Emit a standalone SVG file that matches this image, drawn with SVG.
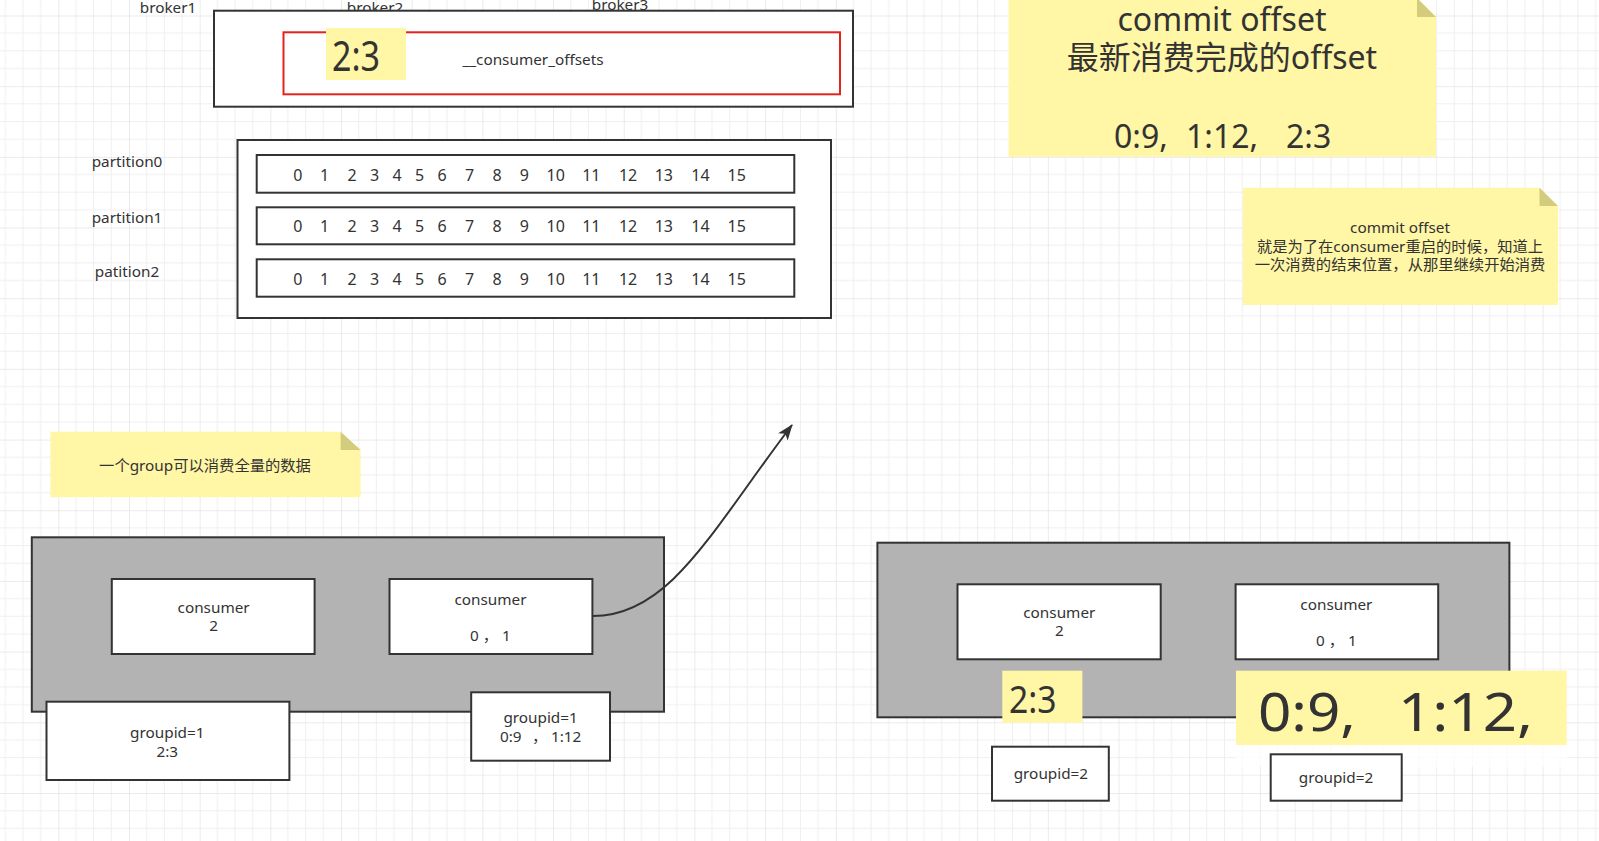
<svg xmlns="http://www.w3.org/2000/svg" width="1599" height="841" viewBox="0 0 1599 841">
<style>
.t{font-family:"Noto Sans","Noto Sans CJK SC",sans-serif;fill:#333;font-size:15.3px}
.c{text-anchor:middle}
.box{fill:#fff;stroke:#333;stroke-width:2}
.grp{fill:#b3b3b3;stroke:#333;stroke-width:2}
.note{fill:#fff6a6}
.fold{fill:#d3cc7c}
.hl{fill:#fff6a6}
.num{font-size:16px;text-anchor:middle}
.big{font-size:32px}
</style>
<defs>
<pattern id="grid" patternUnits="userSpaceOnUse" x="58.3" y="15.5" width="70.68" height="70.68">
<rect x="17.17" y="0" width="1" height="70.68" fill="#efefef"/>
<rect x="34.84" y="0" width="1" height="70.68" fill="#efefef"/>
<rect x="52.51" y="0" width="1" height="70.68" fill="#efefef"/>
<rect x="0" y="17.17" width="70.68" height="1" fill="#efefef"/>
<rect x="0" y="34.84" width="70.68" height="1" fill="#efefef"/>
<rect x="0" y="52.51" width="70.68" height="1" fill="#efefef"/>
<rect x="-0.5" y="0" width="1.2" height="70.68" fill="#e2e2e2"/>
<rect x="0" y="-0.5" width="70.68" height="1.2" fill="#e2e2e2"/>
</pattern>
<marker id="arr" markerUnits="userSpaceOnUse" markerWidth="16" markerHeight="12" viewBox="0 0 16 12" refX="15" refY="6" orient="auto">
<path d="M0,0 L16,6 L0,12 L4,6 z" fill="#333"/>
</marker>
</defs>
<rect width="1599" height="841" fill="#fff"/>
<rect width="1599" height="841" fill="url(#grid)"/>

<g id="broker-labels">
<text class="t c" x="168" y="13">broker1</text>
<text class="t c" x="375" y="13">broker2</text>
<text class="t c" x="620" y="10">broker3</text>
</g>

<g id="offsets-topic">
<rect class="box" x="214" y="10.7" width="639" height="96"/>
<rect x="283.5" y="32.3" width="556.5" height="62" fill="#fff" stroke="#e3231c" stroke-width="2"/>
<rect class="hl" x="326" y="28" width="80" height="52"/>
<text class="t" x="332" y="70.7" style="font-size:42px" textLength="48" lengthAdjust="spacingAndGlyphs">2:3</text>
<text class="t c" x="533" y="65">__consumer_offsets</text>
</g>

<g id="partitions">
<text class="t c" x="127" y="167">partition0</text>
<text class="t c" x="127" y="222.7">partition1</text>
<text class="t c" x="127" y="276.7">patition2</text>
<rect class="box" x="237.5" y="140" width="593.5" height="178"/>
<rect class="box" x="256.7" y="155" width="537.6" height="37.7"/>
<rect class="box" x="256.7" y="207.3" width="537.6" height="37"/>
<rect class="box" x="256.7" y="259.3" width="537.6" height="37.4"/>
<g class="t num">
<text x="297.9" y="180.7">0</text><text x="324.7" y="180.7">1</text><text x="352.2" y="180.7">2</text><text x="374.7" y="180.7">3</text><text x="397.1" y="180.7">4</text><text x="419.6" y="180.7">5</text><text x="442.1" y="180.7">6</text><text x="469.6" y="180.7">7</text><text x="497" y="180.7">8</text><text x="524.4" y="180.7">9</text><text x="555.7" y="180.7">10</text><text x="591.3" y="180.7">11</text><text x="628.1" y="180.7">12</text><text x="663.8" y="180.7">13</text><text x="700.5" y="180.7">14</text><text x="736.7" y="180.7">15</text>
<text x="297.9" y="231.7">0</text><text x="324.7" y="231.7">1</text><text x="352.2" y="231.7">2</text><text x="374.7" y="231.7">3</text><text x="397.1" y="231.7">4</text><text x="419.6" y="231.7">5</text><text x="442.1" y="231.7">6</text><text x="469.6" y="231.7">7</text><text x="497" y="231.7">8</text><text x="524.4" y="231.7">9</text><text x="555.7" y="231.7">10</text><text x="591.3" y="231.7">11</text><text x="628.1" y="231.7">12</text><text x="663.8" y="231.7">13</text><text x="700.5" y="231.7">14</text><text x="736.7" y="231.7">15</text>
<text x="297.9" y="285">0</text><text x="324.7" y="285">1</text><text x="352.2" y="285">2</text><text x="374.7" y="285">3</text><text x="397.1" y="285">4</text><text x="419.6" y="285">5</text><text x="442.1" y="285">6</text><text x="469.6" y="285">7</text><text x="497" y="285">8</text><text x="524.4" y="285">9</text><text x="555.7" y="285">10</text><text x="591.3" y="285">11</text><text x="628.1" y="285">12</text><text x="663.8" y="285">13</text><text x="700.5" y="285">14</text><text x="736.7" y="285">15</text>
</g>
</g>

<g id="note-commit-offset">
<path class="note" d="M1008.6,-2 L1417,-2 L1436,17 L1436,156.7 L1008.6,156.7 Z"/>
<path class="fold" d="M1417,-2 L1436,17 L1417,17 Z"/>
<text class="t c big" x="1222" y="31">commit offset</text>
<text class="t c big" x="1222" y="69">最新消费完成的offset</text>
<text class="t big" x="1114" y="148.3">0:9,</text>
<text class="t big" x="1186" y="148.3">1:12,</text>
<text class="t big" x="1286" y="148.3">2:3</text>
</g>

<g id="note-explain">
<path class="note" d="M1243,187.7 L1539.5,187.7 L1558,206 L1558,305 L1243,305 Z"/>
<path class="fold" d="M1539.5,187.7 L1558,206 L1539.5,206 Z"/>
<text class="t c" x="1400" y="233.3">commit offset</text>
<text class="t c" x="1400" y="252.3">就是为了在consumer重启的时候，知道上</text>
<text class="t c" x="1400" y="270">一次消费的结束位置，从那里继续开始消费</text>
</g>

<g id="note-group">
<path class="note" d="M50.4,431.7 L340.6,431.7 L360.6,450 L360.6,497.3 L50.4,497.3 Z"/>
<path class="fold" d="M340.6,431.7 L360.6,450 L340.6,450 Z"/>
<text class="t c" x="205" y="470.7">一个group可以消费全量的数据</text>
</g>

<g id="group1">
<rect class="grp" x="31.8" y="537.3" width="632.2" height="174.4"/>
</g>
<g id="g1-consumer2">
<rect class="box" x="111.8" y="579" width="202.8" height="75"/>
<text class="t c" x="213.6" y="613.3">consumer</text>
<text class="t c" x="213.6" y="631">2</text>
</g>
<g id="g1-consumer01">
<rect class="box" x="389.5" y="579" width="202.9" height="75"/>
<text class="t c" x="490.5" y="605">consumer</text>
<text class="t c" x="490.5" y="640.7">0 ， 1</text>
</g>
<g id="g1-offset-2">
<rect class="box" x="46.5" y="701.7" width="242.9" height="78.3"/>
<text class="t c" x="167.3" y="738">groupid=1</text>
<text class="t c" x="167.3" y="756.7">2:3</text>
</g>
<g id="g1-offset-01">
<rect class="box" x="471.2" y="692.3" width="138.8" height="68.4"/>
<text class="t c" x="540.6" y="723">groupid=1</text>
<text class="t" x="500" y="741.7">0:9</text>
<text class="t" x="532" y="741.7">，</text>
<text class="t" x="551" y="741.7">1:12</text>
</g>

<g id="connectors">
<path d="M593,616 C670,616 712,530 792,425" fill="none" stroke="#333" stroke-width="2" marker-end="url(#arr)"/>
</g>

<g id="group2">
<rect class="grp" x="877.4" y="542.7" width="632" height="174.6"/>
</g>
<g id="g2-consumer2">
<rect class="box" x="957.5" y="584.3" width="203.2" height="75"/>
<text class="t c" x="1059.3" y="618.3">consumer</text>
<text class="t c" x="1059.3" y="636">2</text>
</g>
<g id="g2-consumer01">
<rect class="box" x="1235.6" y="584.3" width="202.6" height="75"/>
<text class="t c" x="1336.4" y="610">consumer</text>
<text class="t c" x="1336.4" y="646">0 ， 1</text>
</g>
<g id="g2-hl-23">
<rect class="hl" x="1002.3" y="670.7" width="80.1" height="52"/>
<text class="t" x="1009" y="712.7" style="font-size:38px" textLength="47.5" lengthAdjust="spacingAndGlyphs">2:3</text>
</g>
<g id="g2-hl-0912">
<rect x="1236" y="745" width="331" height="22" fill="#fff" opacity="0.75"/>
<rect class="hl" x="1236" y="670.7" width="330.7" height="74.3"/>
<text class="t" x="1258" y="730.7" style="font-size:52px" textLength="98" lengthAdjust="spacingAndGlyphs">0:9,</text>
<text class="t" x="1398" y="730.7" style="font-size:52px" textLength="135" lengthAdjust="spacingAndGlyphs">1:12,</text>
</g>
<g id="g2-groupid-a">
<rect class="box" x="992" y="746.7" width="116.8" height="54"/>
<text class="t c" x="1050.9" y="779">groupid=2</text>
</g>
<g id="g2-groupid-b">
<rect class="box" x="1270.7" y="754.3" width="131" height="46.4"/>
<text class="t c" x="1336" y="783">groupid=2</text>
</g>
</svg>
